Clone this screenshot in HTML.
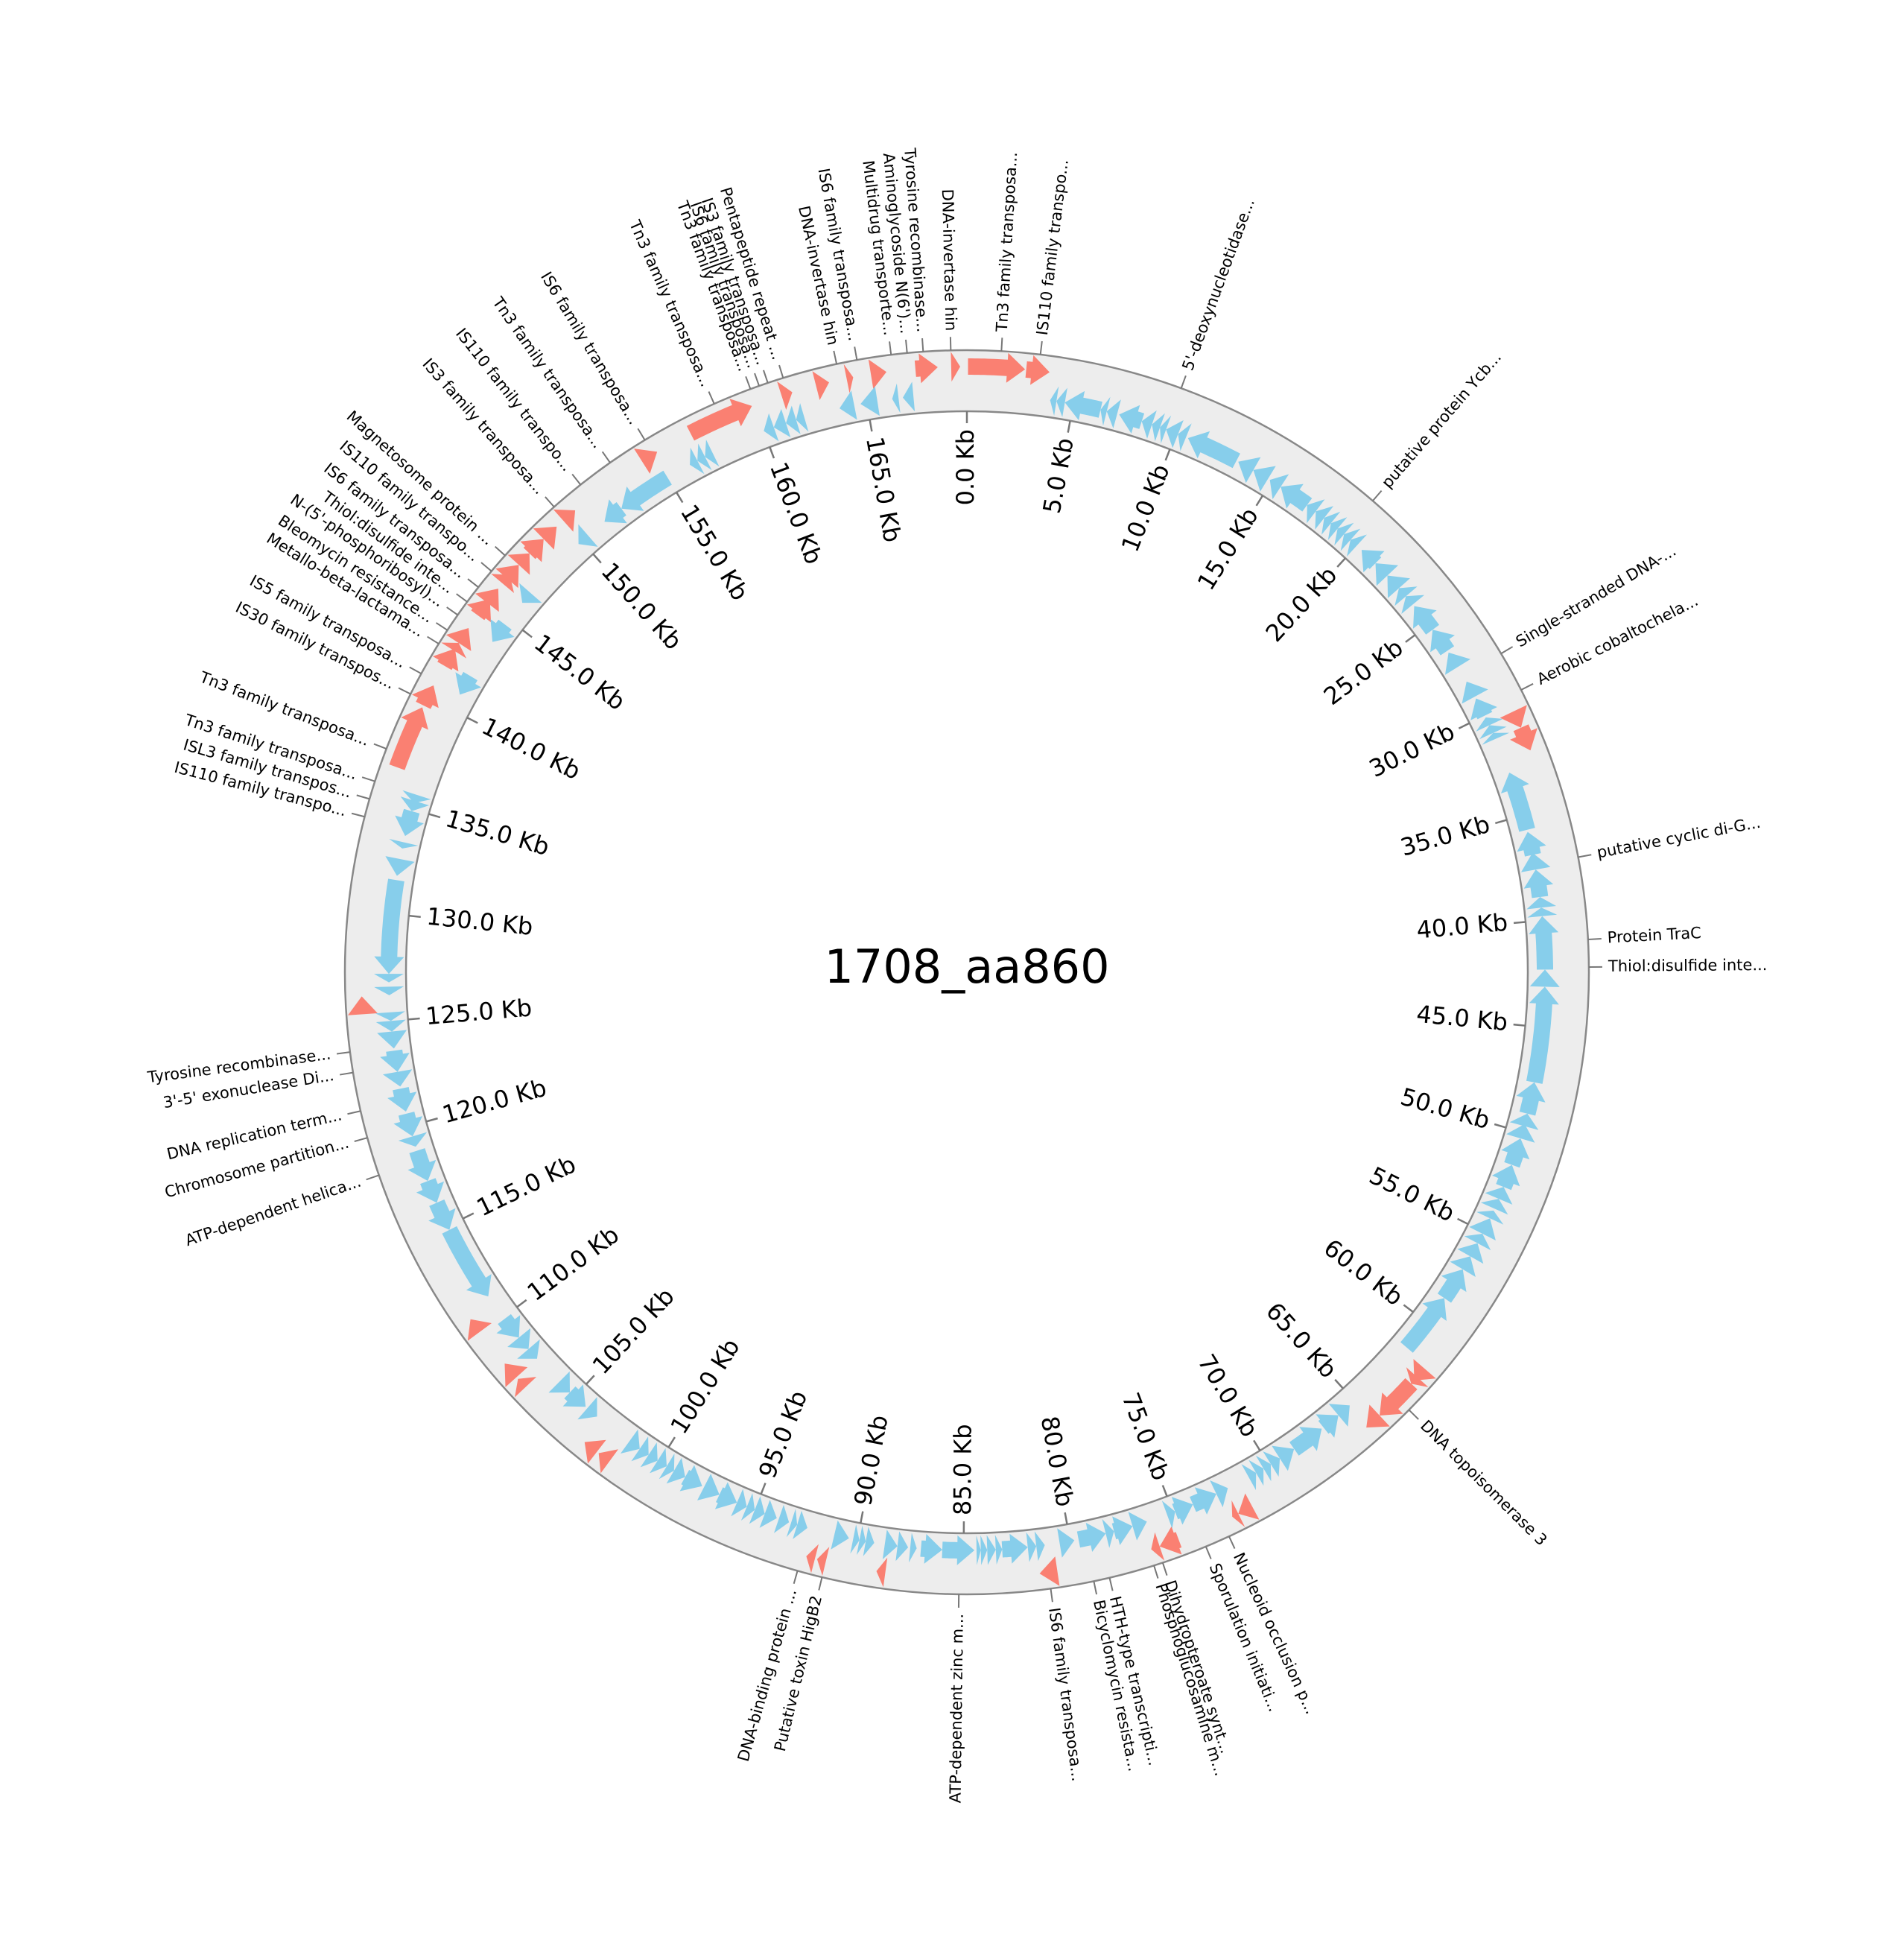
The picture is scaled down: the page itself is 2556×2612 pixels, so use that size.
<!DOCTYPE html>
<html>
<head>
<meta charset="utf-8">
<style>
  html, body { margin: 0; padding: 0; background: #ffffff; }
  svg { display: block; }
  text { font-family: "DejaVu Sans", "Liberation Sans", sans-serif; }
</style>
</head>
<body>
<svg id="plot" width="2556" height="2612" viewBox="0 0 2556 2612" xmlns="http://www.w3.org/2000/svg">
  <rect x="0" y="0" width="2556" height="2612" fill="#ffffff"/>
  <g id="ring"></g>
  <g id="genes"></g>
  <g id="axis"></g>
  <g id="labels"></g>
  <text x="1298" y="1302" font-size="62" text-anchor="middle" dominant-baseline="middle" fill="#000">1708_aa860</text>
</svg>
<script>
// ---- data ----
const genomeLength = 169.7; // Kb
const tickValues = [0,5,10,15,20,25,30,35,40,45,50,55,60,65,70,75,80,85,90,95,100,105,110,115,120,125,130,135,140,145,150,155,160,165];
const tickLabels = tickValues.map(v => v.toFixed(1) + " Kb");

// forward-strand features (salmon), [start, end] in Kb
const fwdStarts = [0.05,2.65,30.4,31.2,61.7,62.2,62.6,64.6,71.6,72.3,75.2,76.1,80.8,88.5,91.2,91.7,101.9,102.6,106.9,107.5,110.1,125.4,136.6,139.6,141.6,142.4,142.8,144.3,145.0,146.1,146.4,147.2,147.9,148.8,150.0,154.4,156.9,161.3,162.9,164.3,165.4,167.4,169.0];
const fwdEnds   = [2.6,3.7,31.2,32.3,62.4,62.6,64.6,65.4,72.3,72.6,76.1,76.5,81.6,88.9,91.6,92.1,102.5,103.3,107.4,108.3,110.8,126.2,139.5,140.6,142.5,142.8,143.6,145.2,145.8,146.6,147.2,147.9,148.8,149.6,150.7,155.2,159.9,161.8,163.5,164.6,166.1,168.4,169.4];

// reverse-strand features (sky blue), [start, end] in Kb
const revStarts = [3.9,4.2,4.6,6.3,6.6,7.2,8.3,8.8,9.2,9.5,10.1,10.6,13.2,14.0,14.9,15.5,17.0,17.5,18.0,18.4,18.8,19.2,19.6,20.3,21.2,22.0,22.8,23.3,23.9,25.3,26.6,28.2,29.1,30.1,30.5,30.9,32.9,35.8,36.8,37.6,38.9,39.4,39.8,42.3,43.1,47.6,49.1,49.6,50.3,51.6,52.7,53.3,53.9,54.3,55.1,55.6,56.3,57.0,58.6,65.3,66.0,67.0,68.6,69.4,69.9,70.3,70.7,72.2,72.8,74.0,74.9,76.3,77.0,77.9,78.3,79.8,81.2,81.6,82.0,83.2,83.5,83.9,84.2,84.5,86.0,87.2,87.6,88.1,89.2,89.6,89.9,90.4,92.4,92.9,93.3,93.9,94.5,95.0,95.4,95.9,96.8,97.7,98.6,99.2,99.6,100.1,100.6,101.1,103.6,104.3,105.3,107.5,108.1,108.8,111.2,114.8,116.2,117.3,119.0,119.5,120.7,121.9,122.6,123.7,124.5,125.0,126.2,126.8,127.2,131.8,133.1,133.7,134.9,135.3,140.8,143.7,146.0,149.8,151.4,152.4,156.2,156.6,157.0,160.0,160.5,161.1,161.6,163.7,164.7,166.2,166.7];
const revEnds   = [4.2,4.6,6.3,6.6,7.1,8.3,8.8,9.2,9.5,10.1,10.5,13.1,14.0,14.8,15.5,17.0,17.5,18.0,18.4,18.8,19.2,19.6,20.0,21.2,22.0,22.8,23.3,23.8,25.3,26.5,27.4,29.0,30.0,30.5,30.9,31.2,35.7,36.9,37.6,38.9,39.4,39.8,42.3,43.1,47.6,49.1,49.7,50.3,51.6,52.7,53.3,53.8,54.3,55.1,55.6,56.3,57.0,58.6,61.5,66.0,66.9,68.6,69.4,69.9,70.3,70.7,71.1,72.8,74.0,74.9,75.3,77.0,77.9,78.3,79.6,80.5,81.6,82.0,83.2,83.5,83.9,84.2,84.4,86.0,87.0,87.5,88.1,88.7,89.6,89.9,90.2,91.1,92.9,93.2,93.8,94.5,95.0,95.4,95.9,96.8,97.6,98.6,99.2,99.6,100.1,100.6,101.1,101.7,104.2,105.3,106.0,108.1,108.8,109.9,114.8,116.2,117.3,118.8,119.5,120.6,121.8,122.6,123.6,124.5,125.0,125.4,126.6,127.2,131.6,132.6,133.4,134.9,135.4,135.7,141.8,144.7,146.6,150.4,152.4,155.0,156.6,157.0,157.4,160.5,161.1,161.6,162.0,164.4,165.5,166.5,167.2];

// annotation labels
const labelNames = ["IS110 family transpo...","Tn3 family transposa...","DNA-invertase hin","Tyrosine recombinase...","Aminoglycoside N(6')...","Multidrug transporte...","IS6 family transposa...","DNA-invertase hin","Pentapeptide repeat ...","IS3 family transposa...","IS6 family transposa...","Tn3 family transposa...","Tn3 family transposa...","IS6 family transposa...","Tn3 family transposa...","IS110 family transpo...","IS3 family transposa...","Magnetosome protein ...","IS110 family transpo...","IS6 family transposa...","Thiol:disulfide inte...","N-(5'-phosphoribosyl)...","Bleomycin resistance...","Metallo-beta-lactama...","IS5 family transposa...","IS30 family transpos...","Tn3 family transposa...","Tn3 family transposa...","ISL3 family transpos...","IS110 family transpo...","Tyrosine recombinase...","3'-5' exonuclease Di...","DNA replication term...","Chromosome partition...","ATP-dependent helica...","DNA-binding protein ...","Putative toxin HigB2","ATP-dependent zinc m...","IS6 family transposa...","Bicyclomycin resista...","HTH-type transcripti...","Phosphoglucosamine m...","Dihydropteroate synt...","Sporulation initiati...","Nucleoid occlusion p...","DNA topoisomerase 3","Thiol:disulfide inte...","Protein TraC","putative cyclic di-G...","Aerobic cobaltochela...","Single-stranded DNA-...","putative protein Ycb...","5'-deoxynucleotidase..."];
const labelPositions = [3.2,1.5,169.0,167.8,167.1,166.4,164.9,164.0,161.6,160.9,160.5,160.1,158.4,155.0,153.2,151.6,150.1,147.1,146.2,145.3,144.5,143.8,143.0,142.3,140.8,139.8,137.2,135.7,134.9,134.1,123.8,122.9,121.2,120.0,118.3,92.3,91.2,85.2,81.2,79.3,78.6,76.6,76.2,74.2,73.1,63.5,42.2,41.0,37.4,29.7,27.9,19.2,9.5];

// ---- geometry ----
const CX = 1298, CY = 1305;
const R_IN = 753, R_OUT = 835;
const NS = "http://www.w3.org/2000/svg";
function ang(kb) { return kb / genomeLength * 2 * Math.PI; }
function pt(kb, r) { const a = ang(kb); return [CX + r * Math.sin(a), CY - r * Math.cos(a)]; }
function mk(tag, attrs, parent) {
  const e = document.createElementNS(NS, tag);
  for (const k in attrs) e.setAttribute(k, attrs[k]);
  parent.appendChild(e);
  return e;
}

// ring (annulus built from semicircle arcs)
const ring = document.getElementById('ring');
const ringPath =
  `M ${CX} ${CY - R_OUT} A ${R_OUT} ${R_OUT} 0 0 1 ${CX} ${CY + R_OUT} A ${R_OUT} ${R_OUT} 0 0 1 ${CX} ${CY - R_OUT} Z ` +
  `M ${CX} ${CY - R_IN} A ${R_IN} ${R_IN} 0 0 0 ${CX} ${CY + R_IN} A ${R_IN} ${R_IN} 0 0 0 ${CX} ${CY - R_IN} Z`;
const ringFill = mk('path', {d: ringPath, fill: '#ededed', 'fill-rule': 'evenodd', stroke: 'none'}, ring);


const outerC = mk('circle', {cx: CX, cy: CY, r: R_OUT, fill: 'none', stroke: '#888', 'stroke-width': 2.5}, ring);


const innerC = mk('circle', {cx: CX, cy: CY, r: R_IN, fill: 'none', stroke: '#888', 'stroke-width': 2.5}, ring);



// gene arrows
const genesG = document.getElementById('genes');
const HEAD = 0.8; // Kb
function arrowPath(s, e, forward, rc, hwBody, hwHead) {
  const len = e - s;
  const h = Math.min(HEAD, len);
  const pts = [];
  const steps = 12;
  if (forward) {
    const bEnd = e - h;
    if (bEnd > s) {
      for (let i = 0; i <= steps; i++) pts.push(pt(s + (bEnd - s) * i / steps, rc + hwBody));
      pts.push(pt(bEnd, rc + hwHead));
      pts.push(pt(e, rc));
      pts.push(pt(bEnd, rc - hwHead));
      for (let i = steps; i >= 0; i--) pts.push(pt(s + (bEnd - s) * i / steps, rc - hwBody));
    } else {
      pts.push(pt(s, rc + hwHead)); pts.push(pt(e, rc)); pts.push(pt(s, rc - hwHead));
    }
  } else {
    const bStart = s + h;
    if (e > bStart) {
      for (let i = 0; i <= steps; i++) pts.push(pt(bStart + (e - bStart) * i / steps, rc + hwBody));
      for (let i = steps; i >= 0; i--) pts.push(pt(bStart + (e - bStart) * i / steps, rc - hwBody));
      pts.push(pt(bStart, rc - hwHead));
      pts.push(pt(s, rc));
      pts.push(pt(bStart, rc + hwHead));
    } else {
      pts.push(pt(e, rc + hwHead)); pts.push(pt(s, rc)); pts.push(pt(e, rc - hwHead));
    }
  }
  return 'M ' + pts.map(p => p[0].toFixed(1) + ' ' + p[1].toFixed(1)).join(' L ') + ' Z';
}
fwdStarts.forEach((s, i) => {
  const p = mk('path', {d: arrowPath(s, fwdEnds[i], true, 813, 11, 20), fill: '#FA8072'}, genesG);
  
  
});
revStarts.forEach((s, i) => {
  const p = mk('path', {d: arrowPath(s, revEnds[i], false, 776, 11, 20), fill: '#87CEEB'}, genesG);
  
  
});

// axis ticks
const axisG = document.getElementById('axis');
tickValues.forEach((v, i) => {
  const a = pt(v, R_IN), b = pt(v, R_IN - 16);
  const ln = mk('line', {x1: a[0], y1: a[1], x2: b[0], y2: b[1], stroke: '#777', 'stroke-width': 2.5}, axisG);
  
  
  const deg = v / genomeLength * 360;
  const p = pt(v, R_IN - 24);
  let rot, anchor;
  if (deg < 180) { rot = deg - 90; anchor = 'end'; } else { rot = deg + 90; anchor = 'start'; }
  const t = mk('text', {x: p[0], y: p[1], 'font-size': 32, 'text-anchor': anchor, 'dominant-baseline': 'middle', transform: `rotate(${rot.toFixed(2)} ${p[0].toFixed(1)} ${p[1].toFixed(1)})`, fill: '#000'}, axisG);
  t.textContent = tickLabels[i];
  
  
});

// outer labels
const labG = document.getElementById('labels');
labelNames.forEach((name, i) => {
  const v = labelPositions[i];
  const a = pt(v, R_OUT), b = pt(v, R_OUT + 18);
  const ln = mk('line', {x1: a[0], y1: a[1], x2: b[0], y2: b[1], stroke: '#777', 'stroke-width': 2}, labG);
  
  
  const deg = v / genomeLength * 360;
  const p = pt(v, R_OUT + 26);
  let rot, anchor;
  if (deg < 180) { rot = deg - 90; anchor = 'start'; } else { rot = deg + 90; anchor = 'end'; }
  const t = mk('text', {x: p[0], y: p[1], 'font-size': 21, 'text-anchor': anchor, 'dominant-baseline': 'middle', transform: `rotate(${rot.toFixed(2)} ${p[0].toFixed(1)} ${p[1].toFixed(1)})`, fill: '#000'}, labG);
  t.textContent = name;
  
  
});
</script>
</body>
</html>
